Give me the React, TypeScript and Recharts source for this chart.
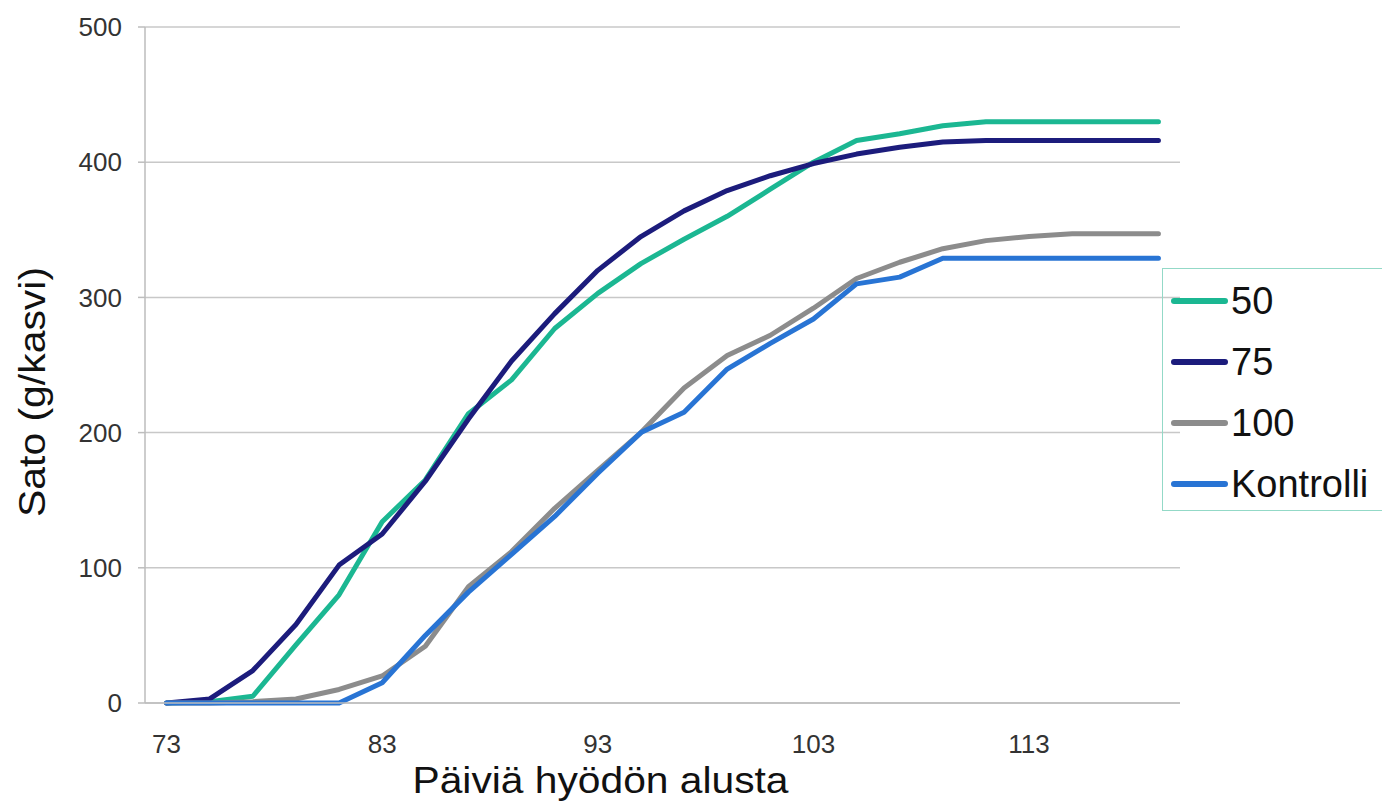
import { LineChart, Line, XAxis, YAxis, CartesianGrid, Legend, Label } from "recharts";

const days = [73, 75, 77, 79, 81, 83, 85, 87, 89, 91, 93, 95, 97, 99, 101, 103, 105, 107, 109, 111, 113, 115, 117, 119];
const dose50 = [0, 1, 5, 43, 80, 134, 165, 214, 239, 277, 303, 325, 343, 360, 380, 400, 416, 421, 427, 430, 430, 430, 430, 430];
const dose75 = [0, 3, 24, 58, 102, 125, 164, 210, 253, 288, 320, 345, 364, 379, 390, 399, 406, 411, 415, 416, 416, 416, 416, 416];
const dose100 = [0, 0, 1, 3, 10, 20, 42, 86, 112, 144, 172, 200, 233, 257, 272, 292, 314, 326, 336, 342, 345, 347, 347, 347];
const kontrolli = [0, 0, 0, 0, 0, 15, 50, 82, 110, 138, 170, 200, 215, 247, 266, 284, 310, 315, 329, 329, 329, 329, 329, 329];

const minorTicks = [72, 74, 76, 78, 80, 82, 84, 86, 88, 90, 92, 94, 96, 98, 100, 102, 104, 106, 108, 110, 112, 114, 116, 118, 120];
const labelTicks = [73, 83, 93, 103, 113];
const yTicks = [0, 100, 200, 300, 400, 500];

const series = [
  { key: "s50", name: "50", color: "#1bb792" },
  { key: "s75", name: "75", color: "#1c1c7c" },
  { key: "s100", name: "100", color: "#8c8c8c" },
  { key: "kontrolli", name: "Kontrolli", color: "#2874d4" },
];

const data = days.map((day, i) => ({
  day,
  s50: dose50[i],
  s75: dose75[i],
  s100: dose100[i],
  kontrolli: kontrolli[i],
}));

const FONT = "'Liberation Sans', Arial, sans-serif";

function LegendBox() {
  return (
    <div
      style={{
        boxSizing: "border-box",
        width: 232,
        height: 243,
        border: "1.5px solid #93d9c7",
        paddingTop: 1,
        fontFamily: FONT,
      }}
    >
      {series.map((s) => (
        <div key={s.key} style={{ display: "flex", alignItems: "center", height: 61 }}>
          <div style={{ marginLeft: 8, width: 57, height: 6, borderRadius: 3, background: s.color }} />
          <span style={{ marginLeft: 3, fontSize: 38, color: "#111", lineHeight: 1 }}>{s.name}</span>
        </div>
      ))}
    </div>
  );
}

export default function App() {
  return (
    <div style={{ position: "absolute", left: 0, top: 0, width: 1382, height: 805, overflow: "hidden", background: "#fff" }}>
      <LineChart width={1382} height={805} data={data} margin={{ top: 27, right: 202, bottom: 52, left: 0 }}>
        <CartesianGrid xAxisId="grid" vertical={false} stroke="#c8c8c8" strokeWidth={1.5} />
        <XAxis
          xAxisId="grid"
          dataKey="day"
          type="number"
          domain={[72, 120]}
          ticks={minorTicks}
          interval={0}
          tick={false}
          tickSize={8}
          height={10}
          stroke="#bdbdbd"
          strokeWidth={1.5}
        />
        <XAxis
          xAxisId="labels"
          dataKey="day"
          type="number"
          domain={[72, 120]}
          ticks={labelTicks}
          interval={0}
          axisLine={false}
          tickLine={false}
          tickSize={0}
          tickMargin={22}
          height={40}
          tick={{ fontSize: 26, fill: "#333", fontFamily: FONT }}
        >
          <Label
            content={({ viewBox }: any) => (
              <text
                x={viewBox.x + viewBox.width / 2 - 62}
                y={793}
                textAnchor="middle"
                fontSize={36}
                fontFamily={FONT}
                fill="#111"
                textLength={376}
                lengthAdjust="spacingAndGlyphs"
              >
                Päiviä hyödön alusta
              </text>
            )}
          />
        </XAxis>
        <YAxis
          domain={[0, 500]}
          ticks={yTicks}
          interval={0}
          width={145}
          tickSize={7}
          tickMargin={16}
          stroke="#bdbdbd"
          strokeWidth={1.5}
          tick={{ fontSize: 26, fill: "#333", fontFamily: FONT }}
        >
          <Label
            content={({ viewBox }: any) => {
              const cx = 45;
              const cy = viewBox.y + viewBox.height / 2 + 27;
              return (
                <text
                  x={cx}
                  y={cy}
                  transform={`rotate(-90, ${cx}, ${cy})`}
                  textAnchor="middle"
                  fontSize={36}
                  fontFamily={FONT}
                  fill="#111"
                  textLength={250}
                  lengthAdjust="spacingAndGlyphs"
                >
                  Sato (g/kasvi)
                </text>
              );
            }}
          />
        </YAxis>
        <Legend
          layout="vertical"
          align="center"
          verticalAlign="middle"
          wrapperStyle={{ left: 1162, top: 268, width: 232, height: 243 }}
          content={() => <LegendBox />}
        />
        {series.map((s) => (
          <Line
            key={s.key}
            xAxisId="grid"
            type="linear"
            dataKey={s.key}
            name={s.name}
            stroke={s.color}
            strokeWidth={5}
            strokeLinecap="round"
            strokeLinejoin="round"
            dot={false}
            activeDot={false}
            isAnimationActive={false}
          />
        ))}
      </LineChart>
    </div>
  );
}
